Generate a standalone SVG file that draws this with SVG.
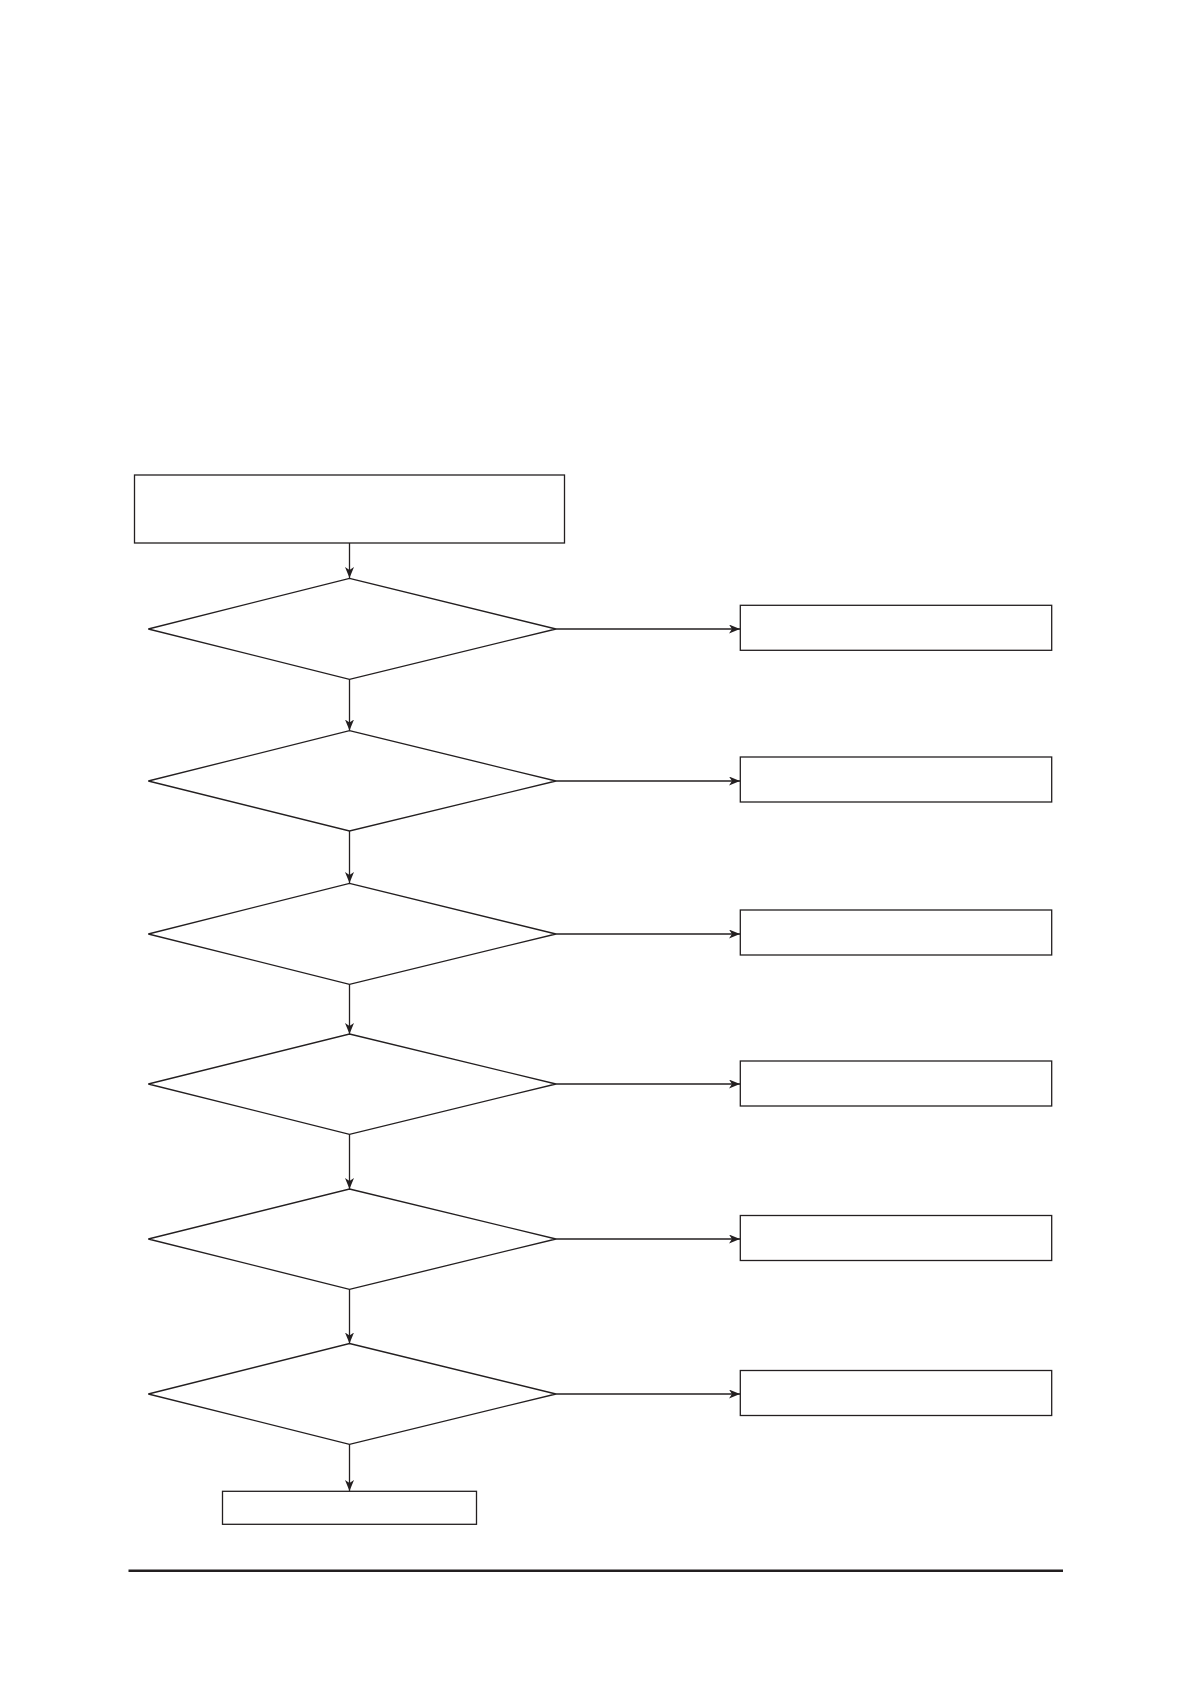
<svg xmlns="http://www.w3.org/2000/svg" width="1191" height="1684" viewBox="0 0 1191 1684">
<style>
.n{fill:#fff;stroke:#231f20;stroke-width:1.3}
.c{fill:none;stroke:#231f20;stroke-width:1.3;marker-end:url(#ah)}
.rule{stroke:#231f20;stroke-width:2.5}
</style>
<defs>
<marker id="ah" markerUnits="userSpaceOnUse" markerWidth="12" markerHeight="10" refX="11" refY="4.5" orient="auto">
<path d="M0,0 L11,4.5 L0,9 L3,4.5 z" fill="#231f20"/>
</marker>
</defs>
<rect width="1191" height="1684" fill="#fff"/>
<g id="connectors">
<line class="c" x1="349.5" y1="543" x2="349.5" y2="578"/>
<line class="c" x1="349.5" y1="679" x2="349.5" y2="730.5"/>
<line class="c" x1="349.5" y1="831" x2="349.5" y2="883"/>
<line class="c" x1="349.5" y1="984" x2="349.5" y2="1034"/>
<line class="c" x1="349.5" y1="1134" x2="349.5" y2="1189"/>
<line class="c" x1="349.5" y1="1289" x2="349.5" y2="1343.5"/>
<line class="c" x1="349.5" y1="1444" x2="349.5" y2="1491"/>
<line class="c" x1="556" y1="629" x2="740" y2="629"/>
<line class="c" x1="556" y1="781" x2="740" y2="781"/>
<line class="c" x1="556" y1="934" x2="740" y2="934"/>
<line class="c" x1="556" y1="1084" x2="740" y2="1084"/>
<line class="c" x1="556" y1="1239" x2="740" y2="1239"/>
<line class="c" x1="556" y1="1394" x2="740" y2="1394"/>
</g>
<g id="start"><rect class="n" x="134.5" y="475" width="430" height="68"/></g>
<g id="d1"><polygon class="n" points="349.5,578.3 556,629 349.5,679.3 148.3,629"/></g>
<g id="d2"><polygon class="n" points="349.5,730.7 556,781 349.5,831 148.3,781"/></g>
<g id="d3"><polygon class="n" points="349.5,883.3 556,934 349.5,984.3 148.3,934"/></g>
<g id="d4"><polygon class="n" points="349.5,1034 556,1084 349.5,1134.3 148.3,1084"/></g>
<g id="d5"><polygon class="n" points="349.5,1189 556,1239 349.5,1289.3 148.3,1239"/></g>
<g id="d6"><polygon class="n" points="349.5,1343.5 556,1394 349.5,1444.3 148.3,1394"/></g>
<g id="r1"><rect class="n" x="740.3" y="605.3" width="311.4" height="45"/></g>
<g id="r2"><rect class="n" x="740.3" y="757" width="311.4" height="45"/></g>
<g id="r3"><rect class="n" x="740.3" y="910" width="311.4" height="45"/></g>
<g id="r4"><rect class="n" x="740.3" y="1061" width="311.4" height="45"/></g>
<g id="r5"><rect class="n" x="740.3" y="1215.5" width="311.4" height="45"/></g>
<g id="r6"><rect class="n" x="740.3" y="1370.5" width="311.4" height="45"/></g>
<g id="end"><rect class="n" x="222.5" y="1491.3" width="254" height="33"/></g>
<line class="rule" x1="128.5" y1="1570.7" x2="1063" y2="1570.7"/>
</svg>
